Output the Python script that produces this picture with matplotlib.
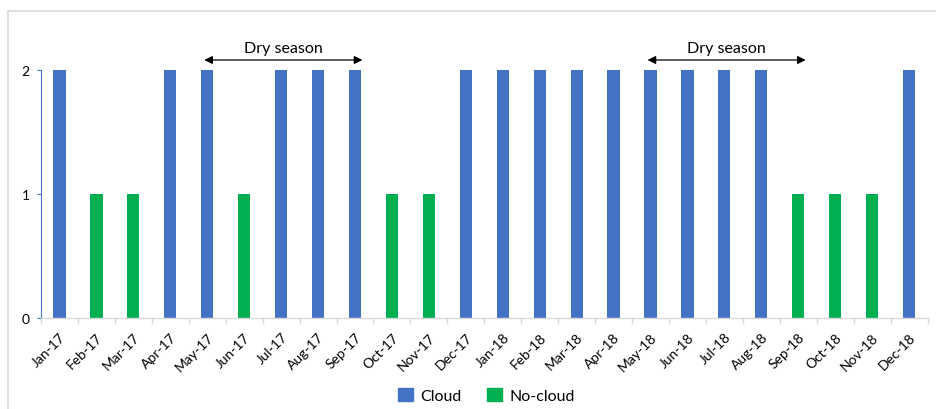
import matplotlib
matplotlib.use("Agg")
import matplotlib.pyplot as plt
from matplotlib.patches import Rectangle, Patch
import numpy as np

plt.rcParams['font.family'] = ['Lato', 'DejaVu Sans']

months = ['Jan-17', 'Feb-17', 'Mar-17', 'Apr-17', 'May-17', 'Jun-17', 'Jul-17', 'Aug-17',
          'Sep-17', 'Oct-17', 'Nov-17', 'Dec-17', 'Jan-18', 'Feb-18', 'Mar-18', 'Apr-18',
          'May-18', 'Jun-18', 'Jul-18', 'Aug-18', 'Sep-18', 'Oct-18', 'Nov-18', 'Dec-18']
cloud = [2, 0, 0, 2, 2, 0, 2, 2, 2, 0, 0, 2, 2, 2, 2, 2, 2, 2, 2, 2, 0, 0, 0, 2]
no_cloud = [0, 1, 1, 0, 0, 1, 0, 0, 0, 1, 1, 0, 0, 0, 0, 0, 0, 0, 0, 0, 1, 1, 1, 0]
dry_seasons = [('May-17', 'Sep-17'), ('May-18', 'Sep-18')]

blue = '#4472C4'
green = '#00B050'

fig = plt.figure(figsize=(9.36, 4.10), dpi=100)
ax = fig.add_axes([0.0438, 0.222, 0.9472, 0.605])

x = np.arange(len(months))
w = 0.33
# cloud / no-cloud never overlap, bars sit in the middle of each category
ax.bar(x, cloud, w, color=blue, label='Cloud', clip_on=False)
ax.bar(x, no_cloud, w, color=green, label='No-cloud', clip_on=False)

ax.set_xlim(-0.5, len(months) - 0.5)
ax.set_ylim(0, 2)
ax.set_yticks([0, 1, 2])
ax.set_yticklabels(['0', '1', '2'], fontsize=10)
ax.tick_params(axis='y', length=3, color=blue, width=0.8, pad=5)

ax.set_xticks(x)
ax.set_xticklabels(months, rotation=45, ha='right', rotation_mode='anchor', fontsize=10)
ax.tick_params(axis='x', which='major', length=0, pad=9)
ax.set_xticks(np.arange(-0.5, len(months)), minor=True)
ax.tick_params(axis='x', which='minor', length=4, color='#D9D9D9', width=1)

for s in ['top', 'right']:
    ax.spines[s].set_visible(False)
ax.spines['left'].set_color(blue)
ax.spines['left'].set_linewidth(0.8)
ax.spines['bottom'].set_color('#D9D9D9')
ax.spines['bottom'].set_linewidth(1)

# dry season arrows
for start, end in dry_seasons:
    x0 = months.index(start) - 0.08
    x1 = months.index(end) + 0.2
    ax.annotate('', xy=(x0, 2.08), xytext=(x1, 2.08), xycoords='data',
                arrowprops=dict(arrowstyle='<|-|>', color='black', lw=0.9,
                                mutation_scale=12, shrinkA=0, shrinkB=0),
                annotation_clip=False)
    ax.text((x0 + x1) / 2, 2.12, 'Dry season', ha='center', va='bottom', fontsize=11.5)

handles = [Patch(color=blue, label='Cloud'), Patch(color=green, label='No-cloud')]
fig.legend(handles=handles, loc='lower center', bbox_to_anchor=(0.52, -0.02), ncol=2,
           frameon=False, fontsize=11.5, handlelength=0.9, handleheight=0.9,
           columnspacing=1.6, handletextpad=0.5)

fig.patches.append(Rectangle((8 / 936, -0.05), 0.993, 1 - 12 / 410 + 0.05,
                             transform=fig.transFigure, fill=False,
                             edgecolor='#D9D9D9', lw=1.2))

fig.savefig('out.png', dpi=100)
